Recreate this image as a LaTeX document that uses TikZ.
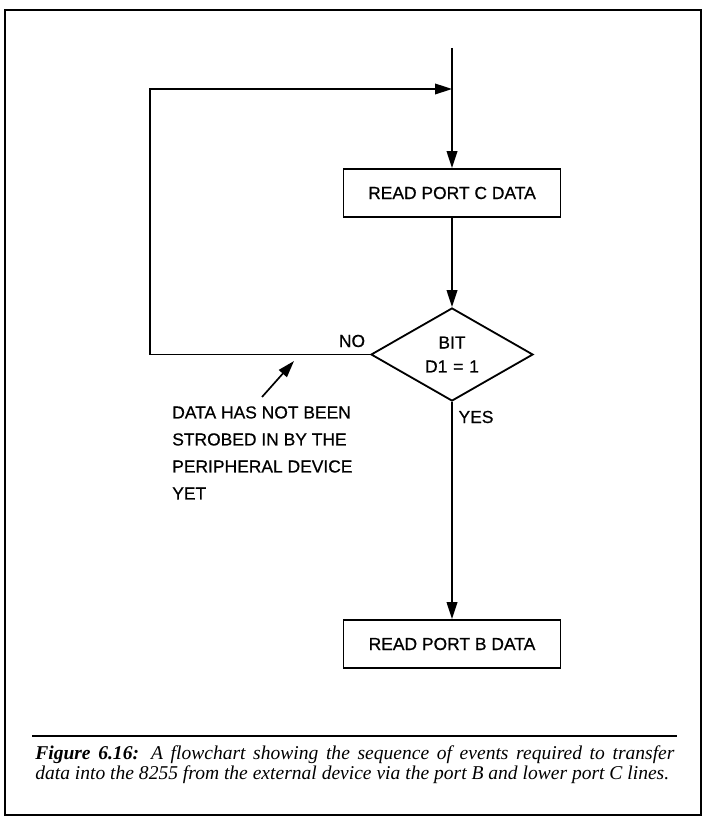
\documentclass[tikz,border=0pt]{standalone}
\usepackage{fontspec}
\setmainfont{Liberation Serif}
\newfontfamily\chartfont[FakeBold=0.6]{Liberation Sans}
\usetikzlibrary{arrows.meta, shapes.geometric}

\begin{document}
\begin{tikzpicture}[x=0.025cm, y=-0.025cm,
    box/.style={draw, line width=1.3pt, minimum width=5.425cm, minimum height=1.2cm,
        inner sep=0pt, font=\chartfont\fontsize{12.4}{14}\selectfont},
    decision/.style={diamond, draw, line width=1.3pt, minimum width=4.05cm,
        minimum height=2.325cm, inner sep=0pt, align=center,
        font=\chartfont\fontsize{12.4}{17}\selectfont},
    flow/.style={line width=1.2pt, -{Triangle[length=12pt, width=7.5pt]}},
    chartnote/.style={inner sep=0pt, font=\chartfont\fontsize{12.4}{19.2}\selectfont}]
    % Page size and frame
    \useasboundingbox (0,0) rectangle (704,819);
    \draw[line width=1.9pt] (5,10) rectangle (701,815);
    
    % Boxes
    \node[box] (readC) at (452,193) {READ PORT C DATA};
    \node[decision] (bitD) at (452,354.5) {BIT\\D1\,\,=\,\,1};
    \node[box] (readB) at (452,644) {READ PORT B DATA};
    
    % Free ends
    \coordinate (entry) at (452,48);
    \coordinate (merge) at (452,89);
    \coordinate (loopLow) at (150,354.5);
    \coordinate (loopHigh) at (150,89);
    
    % Main flow
    \draw[flow] (entry) -- (readC.north);
    \draw[flow] (readC.south) -- (bitD.north);
    \draw[flow] (bitD.south) -- (readB.north);
    
    % Loop back when the bit is clear
    \draw[flow] (bitD.west) -- (loopLow) -- (loopHigh) -- (merge);
    \node[chartnote] (no) at (352,341) {NO};
    \node[chartnote] (yes) at (476,417) {YES};
    
    % Note on the loop
    \node[chartnote, anchor=north west, align=left] (note) at (172,406)
        {DATA HAS NOT BEEN\\STROBED IN BY THE\\PERIPHERAL DEVICE\\YET};
    \coordinate (noteTail) at (262,397);
    \coordinate (noteTip) at (294,361);
    \draw[flow] (noteTail) -- (noteTip);
    
    % Caption
    \coordinate (ruleL) at (32,736);
    \coordinate (ruleR) at (677,736);
    \draw[line width=1.2pt] (ruleL) -- (ruleR);
    \node[anchor=north west, align=justify, text width=15.975cm, inner sep=0pt,
        font=\itshape\fontsize{13.9}{14.3}\selectfont] (caption) at (35,745)
        {\textbf{Figure 6.16:} A flowchart showing the sequence of events required to transfer\linebreak
         data into the 8255 from the external device via the port B and lower port C lines.};
\end{tikzpicture}
\end{document}
